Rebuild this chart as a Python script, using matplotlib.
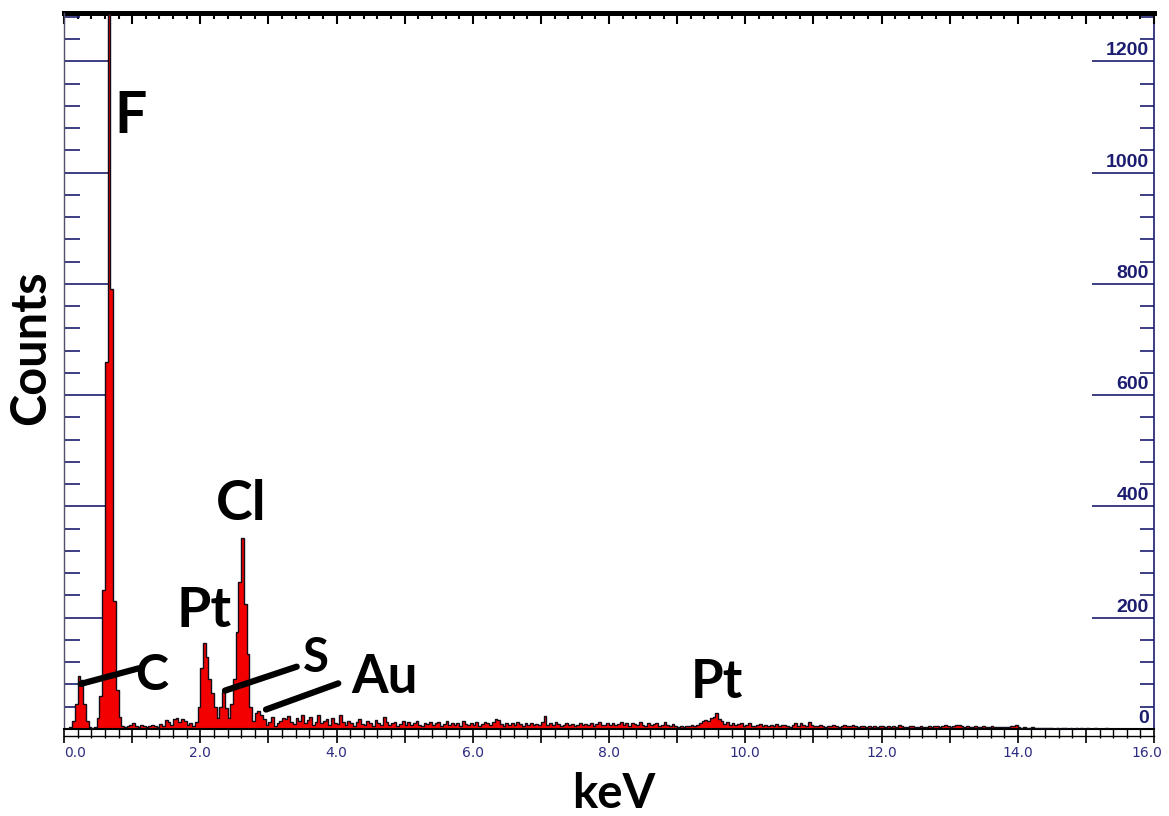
import numpy as np
import matplotlib
matplotlib.use("Agg")
import matplotlib.pyplot as plt
from matplotlib import transforms
from matplotlib.ticker import MultipleLocator

# ---- EDS spectrum counts, 0.04 keV channels ----
counts_00_04 = [
    0, 0, 3, 15, 45, 95, 88, 45, 15, 3,
    2, 3, 20, 60, 250, 660, 1285, 790, 230, 70,
    22, 6, 3, 5, 8, 10, 6, 4, 7, 5,
    3, 6, 8, 5, 4, 9, 6, 16, 12, 8,
    18, 20, 12, 18, 14, 8, 10, 6, 12, 40,
    110, 155, 130, 90, 65, 40, 20, 40, 66, 38,
    20, 45, 90, 175, 265, 343, 225, 135, 40, 14,
    28, 32, 25, 18, 8, 12, 22, 6, 10, 15,
    20, 18, 24, 12, 9, 20, 14, 26, 10, 16,
    22, 8, 12, 25, 10, 14, 18, 8, 20, 11,
]
counts_04_08 = [
    9, 25, 12, 8, 15, 10, 6, 12, 18, 9,
    7, 14, 10, 6, 16, 11, 8, 22, 12, 7,
    10, 13, 6, 9, 15, 8, 12, 7, 10, 14,
    8, 6, 11, 9, 13, 7, 10, 12, 6, 9,
    15, 8, 11, 7, 10, 6, 14, 9, 7, 11,
    8, 12, 6, 9, 13, 10, 7, 12, 18, 17,
    9, 6, 11, 8, 10, 7, 12, 9, 6, 10,
    8, 11, 7, 9, 8, 13, 23, 8, 10, 7,
    12, 9, 6, 8, 10, 7, 9, 6, 8, 11,
    7, 9, 8, 10, 6, 9, 12, 7, 8, 10,
]
counts_08_12 = [
    8, 11, 7, 9, 12, 8, 10, 6, 11, 9,
    7, 12, 8, 6, 10, 7, 9, 11, 6, 8,
    12, 7, 5, 9, 6, 4, 5, 4, 6, 5,
    7, 5, 8, 10, 14, 17, 15, 20, 22, 28,
    18, 14, 9, 12, 8, 10, 7, 9, 11, 6,
    8, 10, 6, 5, 7, 9, 6, 8, 5, 7,
    6, 9, 5, 7, 8, 6, 4, 7, 10, 6,
    11, 8, 5, 12, 7, 5, 6, 8, 5, 4,
    6, 5, 7, 6, 4, 5, 8, 6, 5, 7,
    6, 4, 5, 6, 4, 5, 3, 5, 4, 6,
]
counts_12_16 = [
    5, 4, 6, 3, 5, 4, 7, 5, 4, 3,
    5, 6, 4, 3, 5, 4, 3, 5, 4, 6,
    5, 4, 6, 7, 5, 4, 6, 8, 8, 6,
    4, 5, 3, 4, 5, 3, 4, 5, 4, 3,
    5, 4, 3, 4, 3, 4, 3, 5, 6, 7,
    3, 2, 3, 2, 2, 3, 2, 1, 2, 1,
    1, 2, 1, 0, 1, 0, 1, 2, 0, 1,
    0, 1, 0, 1, 0, 2, 0, 0, 1, 0,
    0, 0, 1, 0, 0, 0, 0, 0, 0, 0,
    0, 0, 0, 0, 0, 0, 0, 0, 0, 0,
]
channel_width_kev = 0.04

# ---- axis ticks ----
x_major_ticks = list(range(0, 17))
x_label_values = [0, 2, 4, 6, 8, 10, 12, 14, 16]
x_tick_labels = ["0.0", "2.0", "4.0", "6.0", "8.0", "10.0", "12.0", "14.0", "16.0"]
y_major_ticks = [0, 200, 400, 600, 800, 1000, 1200]
y_tick_labels = ["0", "200", "400", "600", "800", "1000", "1200"]

# ---- element labels and leader lines ----
peak_names = ["F", "Cl", "Pt", "C", "S", "Au", "Pt"]
peak_label_kev = [0.97, 2.60, 2.06, 1.28, 3.70, 4.70, 9.59]
peak_label_counts = [1071, 376, 183, 70, 102, 65, 56]
peak_label_sizes = [41, 40, 40, 36, 34, 38, 38]
leader_kev = [(0.245, 1.093), (2.363, 3.416), (2.965, 4.026)]
leader_counts = [(81, 109), (69, 112), (35, 82)]

counts = np.concatenate([counts_00_04, counts_04_08, counts_08_12, counts_12_16])
edges = np.arange(len(counts) + 1) * channel_width_kev

navy = "#1c1c70"
label_font = ["Lato", "DejaVu Sans"]

fig = plt.figure(figsize=(11.69, 8.16), dpi=100)
ax = fig.add_axes([64 / 1169, 1 - 729 / 816, 1090 / 1169, 716 / 816])
ax.set_xlim(0, 16)
ax.set_ylim(0, 1287)

# spectrum: filled red histogram with dark outline
ax.stairs(counts, edges, fill=True, color="#f20000", zorder=2)
ax.stairs(counts, edges, color="#120c18", lw=1.0, zorder=3)

# left axis: long navy marks at the 200s, short ones every 40
ax.yaxis.set_ticks_position("left")
ax.set_yticks(y_major_ticks)
ax.yaxis.set_minor_locator(MultipleLocator(40))
ax.tick_params(axis="y", which="major", direction="in", length=32.5, width=1.2,
               color=navy, labelleft=False)
ax.tick_params(axis="y", which="minor", direction="in", length=11.5, width=1.2,
               color=navy)

# bottom axis
ax.xaxis.set_ticks_position("bottom")
ax.set_xticks(x_major_ticks)
ax.set_xticklabels([x_tick_labels[x_label_values.index(v)] if v in x_label_values else ""
                    for v in x_major_ticks])
ax.xaxis.set_minor_locator(MultipleLocator(0.2))
ax.tick_params(axis="x", which="major", direction="out", length=10, width=1.2,
               color="black", pad=2, labelsize=10, labelcolor="#2b2b80")
ax.tick_params(axis="x", which="minor", direction="out", length=6.5, width=1.0,
               color="black")
for lab in ax.get_xticklabels():
    lab.set_fontfamily("DejaVu Sans")
xlabs = ax.get_xticklabels()
xlabs[0].set_horizontalalignment("left")
xlabs[-1].set_horizontalalignment("right")
xlabs[-1].set_transform(xlabs[-1].get_transform()
                        + transforms.ScaledTranslation(0.08, 0, fig.dpi_scale_trans))

ax.spines["left"].set_color("#50506a")
ax.spines["left"].set_linewidth(1.0)
ax.spines["bottom"].set_color("black")
ax.spines["bottom"].set_linewidth(1.5)
ax.spines["right"].set_visible(False)
ax.spines["top"].set_visible(False)

# second rule under the baseline
ax.plot([0, 1], [0, 0], color="black", lw=1.0, clip_on=False,
        transform=ax.transAxes + transforms.ScaledTranslation(0, -0.07, fig.dpi_scale_trans))

# right axis
sec_y = ax.secondary_yaxis("right")
sec_y.set_yticks(y_major_ticks)
sec_y.yaxis.set_minor_locator(MultipleLocator(40))
sec_y.tick_params(which="major", direction="in", length=45, width=1.2, color=navy,
                  labelright=False)
sec_y.tick_params(which="minor", direction="in", length=10, width=1.2, color=navy)
sec_y.spines["right"].set_color(navy)
sec_y.spines["right"].set_linewidth(1.2)

blend = transforms.blended_transform_factory(ax.transAxes, ax.transData)
for v, txt in zip(y_major_ticks, y_tick_labels):
    ax.text(0.9954, v + 11, txt, transform=blend, ha="right", va="baseline",
            fontfamily="Liberation Sans", fontweight="bold", fontsize=14, color=navy)

# top frame with ticks
sec_x = ax.secondary_xaxis("top")
sec_x.set_xticks(x_major_ticks)
sec_x.xaxis.set_minor_locator(MultipleLocator(0.2))
sec_x.tick_params(which="major", direction="in", length=8, width=1.5, color="black",
                  labeltop=False)
sec_x.tick_params(which="minor", direction="in", length=4.5, width=1.5, color="black")
sec_x.spines["top"].set_color("black")
sec_x.spines["top"].set_linewidth(3.6)

# element labels
for name, xk, yc, fs in zip(peak_names, peak_label_kev, peak_label_counts, peak_label_sizes):
    ax.text(xk, yc, name, ha="center", va="baseline", fontsize=fs,
            fontweight="bold", family=label_font, color="black", zorder=5)
for (x0, x1), (y0, y1) in zip(leader_kev, leader_counts):
    ax.plot([x0, x1], [y0, y1], color="black", lw=4.5, solid_capstyle="round", zorder=5)

# axis titles
fig.text(614 / 1169, 1 - 808 / 816, "keV", ha="center", va="baseline",
         fontsize=34, fontweight="bold", family=label_font)
fig.text(31 / 1169, 1 - 348 / 816, "Counts", ha="center", va="center", rotation=90,
         fontsize=35, fontweight="bold", family=label_font)

fig.savefig("out.png", dpi=100, facecolor="white")
